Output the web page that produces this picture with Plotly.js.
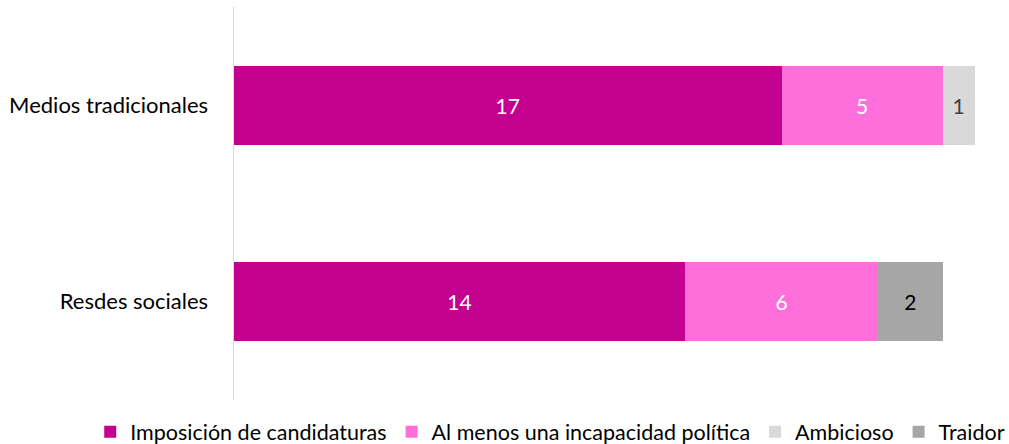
<!DOCTYPE html>
<html>
<head>
<meta charset="utf-8">
<script src="https://cdn.plot.ly/plotly-3.0.1.min.js"></script>
<style>
  html, body { margin: 0; padding: 0; background: #fff; }
  #chart { width: 1009px; height: 444px; }
</style>
</head>
<body>
<div id="chart"></div>
<script>
// Categories (top to bottom) and series values
const categories = ['Medios tradicionales', 'Resdes sociales'];
const imposicion = [17, 14];
const incapacidad = [5, 6];
const ambicioso = [1, null];
const traidor = [null, 2];

const seriesNames = [
  'Imposición de candidaturas',
  'Al menos una incapacidad política',
  'Ambicioso',
  'Traidor',
];
const seriesColors = ['#C4008F', '#FF6FDB', '#D9D9D9', '#A6A6A6'];
const labelColors = ['#FFFFFF', '#FFFFFF', '#404040', '#000000'];
const FONT = 'Lato, "Open Sans", sans-serif';

const values = [imposicion, incapacidad, ambicioso, traidor];

const traces = values.map((vals, i) => ({
  type: 'bar',
  orientation: 'h',
  name: seriesNames[i],
  y: categories,
  x: vals,
  text: vals.map((v) => (v == null ? '' : String(v))),
  textposition: 'inside',
  insidetextanchor: 'middle',
  textangle: 0,
  constraintext: 'none',
  textfont: {family: FONT, size: 21, color: labelColors[i]},
  marker: {color: seriesColors[i], line: {width: 0}},
  hoverinfo: 'skip',
}));

const layout = {
  width: 1009,
  height: 444,
  margin: {l: 234, r: 2, t: 7, b: 44, autoexpand: false},
  paper_bgcolor: '#fff',
  plot_bgcolor: '#fff',
  barmode: 'stack',
  bargap: 0.6,
  font: {family: FONT, size: 21, color: '#000'},
  showlegend: true,
  // legend sits left of the plot area so it can use the full page width
  legend: {
    orientation: 'h',
    xref: 'paper',
    yref: 'paper',
    x: -0.186,
    xanchor: 'left',
    y: -0.081,
    yanchor: 'middle',
    font: {family: FONT, size: 21.5, color: '#000'},
    traceorder: 'normal',
    itemwidth: 30,
    tracegroupgap: 0,
  },
  xaxis: {
    range: [0, 24],
    autorange: false,
    showgrid: false,
    zeroline: false,
    showticklabels: false,
    showline: false,
    ticks: '',
  },
  yaxis: {
    autorange: 'reversed',
    showgrid: false,
    zeroline: false,
    showline: true,
    linecolor: '#D9D9D9',
    linewidth: 1.5,
    ticks: '',
    ticklabelstandoff: 20,
    tickfont: {family: FONT, size: 22, color: '#000'},
  },
};

Plotly.newPlot('chart', traces, layout, {displayModeBar: false, staticPlot: true});
</script>
</body>
</html>
